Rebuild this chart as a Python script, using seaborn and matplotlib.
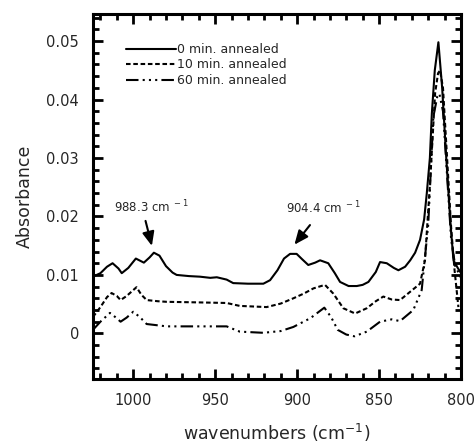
import matplotlib
matplotlib.use("Agg")
import matplotlib.pyplot as plt
import seaborn as sns
import pandas as pd
from matplotlib.ticker import MultipleLocator, FixedLocator

sns.set_theme(style="ticks")
plt.rcParams['font.family'] = ['DejaVu Sans']

# ---- data ----
wn_0min = [1024.6, 1020, 1016, 1012.6, 1009, 1007, 1003, 998.4, 993.5, 990, 987.4, 984, 980, 976, 973.5,
           966, 959.3, 953, 949, 946, 943, 939, 930, 920.6, 916.5, 912, 908, 904.3, 900.3, 897, 893.2,
           889, 886, 881, 877, 873.8, 868.6, 863.6, 860, 856.5, 852, 849.4, 845.3, 841, 838.2, 834.1,
           831, 828, 825, 822.5, 820.9, 819, 817.8, 816, 813.8, 811.5, 809, 806.5, 804.6, 802, 800]
abs_0min = [0.0097, 0.0103, 0.0114, 0.0120, 0.0111, 0.0103, 0.0112, 0.0128, 0.0121, 0.0130, 0.0138, 0.0133,
            0.0115, 0.0104, 0.0100, 0.0098, 0.0097, 0.0095, 0.0096, 0.0094, 0.0092, 0.0086, 0.0085, 0.0085,
            0.0091, 0.0108, 0.0128, 0.0136, 0.0136, 0.0127, 0.0117, 0.0121, 0.0125, 0.0120, 0.0103, 0.0088,
            0.0081, 0.0081, 0.0083, 0.0088, 0.0105, 0.0122, 0.0120, 0.0112, 0.0108, 0.0114, 0.0125, 0.0138,
            0.0160, 0.0195, 0.0239, 0.0300, 0.0376, 0.0450, 0.0498, 0.0420, 0.0300, 0.0190, 0.0125, 0.0112, 0.0103]

wn_10min = [1024.6, 1020, 1016, 1013.2, 1010, 1007.7, 1004, 998, 995, 991.8, 985, 979.6, 960, 943, 935,
            918.6, 910, 902.3, 896, 890, 883, 877.9, 874, 871.8, 864.6, 857.5, 852, 847.4, 842.3, 837.2,
            831.1, 825, 822, 818.9, 815.8, 814, 812.8, 811, 808.5, 806, 804, 801.6]
abs_10min = [0.0028, 0.0045, 0.0062, 0.0069, 0.0064, 0.0057, 0.0064, 0.0079, 0.0066, 0.0057, 0.0055, 0.0054,
             0.0053, 0.0052, 0.0047, 0.0045, 0.0051, 0.0060, 0.0068, 0.0077, 0.0083, 0.0068, 0.0052, 0.0043,
             0.0034, 0.0043, 0.0055, 0.0063, 0.0058, 0.0057, 0.0071, 0.0085, 0.0125, 0.0257, 0.0411, 0.0445,
             0.0450, 0.0420, 0.0300, 0.0180, 0.0110, 0.0045]

wn_60min = [1024.6, 1020, 1014.2, 1011, 1007.7, 1004, 1000, 996, 991.8, 979.6, 960, 943, 935, 920.6, 910,
            902.3, 891.9, 883.4, 879.3, 875.2, 870, 865, 857.5, 849.4, 842.3, 837.2, 829.1, 824, 820,
            816.9, 814.5, 813.2, 811, 808.5, 806, 803.5, 800]
abs_60min = [0.0006, 0.0020, 0.0035, 0.0028, 0.0020, 0.0027, 0.0037, 0.0028, 0.0016, 0.0012, 0.0012, 0.0012,
             0.0003, 0.0001, 0.0004, 0.0011, 0.0026, 0.0044, 0.0028, 0.0006, -0.0002, -0.0005, 0.0003, 0.0020,
             0.0024, 0.0021, 0.0040, 0.0074, 0.0186, 0.0370, 0.0405, 0.0410, 0.0380, 0.0270, 0.0160, 0.0115, 0.0095]

labels = ["0 min. annealed", "10 min. annealed", "60 min. annealed"]
y_ticks = [0.0, 0.01, 0.02, 0.03, 0.04, 0.05]
y_ticklabels = ["0", "0.01", "0.02", "0.03", "0.04", "0.05"]
x_ticks = [1000, 950, 900, 850, 800]

fig = plt.figure(figsize=(4.74, 4.43), dpi=100)
ax = fig.add_axes([0.196, 0.1445, 0.7766, 0.8235])

styles = [
    dict(linestyle="-"),
    dict(linestyle=(0, (2.2, 1.3))),
    dict(linestyle=(0, (6, 2, 1, 2, 1, 2, 1, 2))),
]
for wn, ab, lab, st in zip([wn_0min, wn_10min, wn_60min], [abs_0min, abs_10min, abs_60min], labels, styles):
    df = pd.DataFrame({"wn": wn, "abs": ab})
    sns.lineplot(data=df, x="wn", y="abs", ax=ax, color="black", lw=1.5, label=lab,
                 sort=False, estimator=None, **st)

ax.set_xlim(1024.6, 800)
ax.set_ylim(-0.0078, 0.0546)
ax.xaxis.set_major_locator(FixedLocator(x_ticks))
ax.xaxis.set_minor_locator(MultipleLocator(10))
ax.set_yticks(y_ticks)
ax.set_yticklabels(y_ticklabels)
ax.yaxis.set_minor_locator(MultipleLocator(0.002))
ax.tick_params(which="both", direction="in", top=True, right=True, width=2, labelsize=10.5, color="black")
ax.tick_params(which="major", length=7, pad=10)
ax.tick_params(which="minor", length=4)
for s in ax.spines.values():
    s.set_linewidth(2.2)
    s.set_color("black")

ax.set_xlabel("wavenumbers (cm$^{-1}$)", fontsize=12.5)
ax.set_ylabel("Absorbance", fontsize=12.5)
ax.xaxis.set_label_coords(0.5, -0.148)
ax.xaxis.label.set_va("center")
ax.yaxis.set_label_coords(-0.185, 0.5)
ax.yaxis.label.set_va("center")

leg = ax.legend(loc="upper left", bbox_to_anchor=(0.077, 0.935), frameon=False, fontsize=9,
                handlelength=4.0, handletextpad=0.1, labelspacing=0.2, borderaxespad=0)

ax.annotate("", xy=(988.2, 0.0145), xytext=(992.9, 0.0197),
            arrowprops=dict(arrowstyle="-|>,head_length=0.7,head_width=0.3", color="black", lw=1.5))
ax.annotate("", xy=(902.7, 0.0148), xytext=(891.1, 0.0189),
            arrowprops=dict(arrowstyle="-|>,head_length=0.7,head_width=0.3", color="black", lw=1.5))
ax.text(988.8, 0.0216, "988.3 cm$^{\\ -1}$", ha="center", va="center", fontsize=8.5)
ax.text(884, 0.0215, "904.4 cm$^{\\ -1}$", ha="center", va="center", fontsize=8.5)

fig.savefig("out.png", dpi=100)
